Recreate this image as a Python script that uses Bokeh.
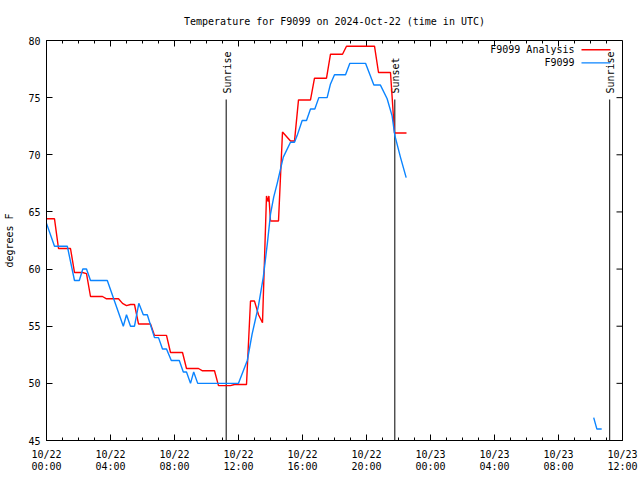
import math
from bokeh.plotting import figure
from bokeh.models import FixedTicker, Range1d, Title, ColumnDataSource
from bokeh.core.properties import value
from bokeh.embed import file_html
from bokeh.resources import INLINE

TITLE = "Temperature for F9099 on 2024-Oct-22 (time in UTC)"
Y_LABEL = "degrees F"
series_names = ["F9099 Analysis", "F9099"]
series_colors = ["#ff0000", "#0a84ff"]

# hours since 2024-10-22 00:00 UTC
analysis_hours = [0.0, 0.5, 0.75, 1.5, 1.75, 2.25, 2.5, 2.75, 3.5, 3.75,
                  4.5, 4.75, 5.0, 5.25, 5.5, 5.75, 6.5, 6.75, 7.5, 7.75,
                  8.5, 8.75, 9.5, 9.75, 10.5, 10.75, 11.5, 11.75, 12.5, 12.75,
                  13.0, 13.25, 13.5, 13.75, 13.85, 13.9, 14.0, 14.5, 14.75, 15.25,
                  15.5, 15.75, 16.5, 16.75, 17.5, 17.75, 18.5, 18.75, 20.5, 20.75,
                  21.5, 21.75, 22.5]
analysis_temps = [64.4, 64.4, 61.8, 61.8, 59.7, 59.7, 59.6, 57.6, 57.6, 57.4,
                  57.4, 57.0, 56.8, 56.9, 56.9, 55.2, 55.2, 54.2, 54.2, 52.7,
                  52.7, 51.3, 51.3, 51.1, 51.1, 49.8, 49.8, 49.9, 49.9, 57.2,
                  57.2, 56.0, 55.3, 66.4, 65.9, 66.4, 64.2, 64.2, 72.0, 71.2,
                  71.2, 74.8, 74.8, 76.7, 76.7, 78.8, 78.8, 79.5, 79.5, 77.2,
                  77.2, 71.9, 71.9]

obs_hours = [0.0, 0.5, 1.3, 1.75, 2.05, 2.27, 2.5, 2.75, 3.8, 4.8,
             5.0, 5.25, 5.5, 5.77, 6.05, 6.3, 6.75, 7.0, 7.25, 7.5,
             7.8, 8.3, 8.55, 8.75, 9.0, 9.2, 9.45, 12.0, 12.55, 12.85,
             13.25, 13.55, 13.8, 14.0, 14.2, 14.42, 14.6, 14.8, 15.25, 15.5,
             15.67, 15.98, 16.25, 16.5, 16.77, 17.02, 17.54, 17.75, 18.0, 18.69,
             18.96, 19.94, 20.46, 20.87, 21.29, 21.6, 21.77, 22.12, 22.48, float("nan"),
             34.2, 34.4, 34.7]
obs_temps = [64, 62, 62, 59, 59, 60, 60, 59, 59, 55,
             56, 55, 55, 57, 56, 56, 54, 54, 53, 53,
             52, 52, 51, 51, 50, 51, 50, 50, 52, 54.3,
             56.8, 59.3, 62.2, 64.8, 66.3, 67.5, 68.6, 69.8, 71.1, 71.1,
             71.7, 73.0, 73.0, 74.0, 74.0, 75.0, 75.0, 76.2, 77.0, 77.0,
             78.0, 78.0, 76.1, 76.1, 74.9, 73.4, 71.7, 69.8, 68.0, float("nan"),
             47, 46, 46]

sun_event_hours = [11.23, 21.77, 35.2]
sun_event_labels = ["Sunrise", "Sunset", "Sunrise"]

x_tick_hours = [0, 4, 8, 12, 16, 20, 24, 28, 32, 36]
x_tick_labels = ["10/22\n00:00", "10/22\n04:00", "10/22\n08:00", "10/22\n12:00",
                 "10/22\n16:00", "10/22\n20:00", "10/23\n00:00", "10/23\n04:00",
                 "10/23\n08:00", "10/23\n12:00"]
x_minor_hours = list(range(0, 37))
y_ticks = [45, 50, 55, 60, 65, 70, 75, 80]

FONT = "DejaVu Sans Mono"
FS = "10px"
X0, X1 = 0, 36
Y0, Y1 = 45, 80
W, H = 640, 480
BL, BR, BT, BB = 46, 18, 40, 40
FW, FH = W - BL - BR, H - BT - BB          # frame size in px
HX = (X1 - X0) / FW                         # hours per px
DY = (Y1 - Y0) / FH                         # degrees per px
MAJ, MIN = 6, 3                             # tick lengths in px

p = figure(width=W, height=H, x_range=Range1d(X0, X1), y_range=Range1d(Y0, Y1),
           output_backend="svg", toolbar_location=None,
           min_border_left=BL, min_border_right=BR, min_border_top=BT, min_border_bottom=BB)
p.title = None
p.xgrid.visible = False
p.ygrid.visible = False
p.outline_line_color = "black"
p.outline_line_width = 1
p.background_fill_color = "white"
p.border_fill_color = "white"


def style_axis(ax):
    ax.axis_line_color = "black"
    ax.axis_line_width = 1
    ax.major_tick_line_color = "black"
    ax.minor_tick_line_color = "black"
    ax.major_tick_in = MAJ
    ax.major_tick_out = 0
    ax.minor_tick_in = MIN
    ax.minor_tick_out = 0
    ax.major_label_text_font = FONT
    ax.major_label_text_font_size = FS
    ax.major_label_text_color = "black"


xa = p.xaxis[0]
xa.ticker = FixedTicker(ticks=x_tick_hours, minor_ticks=x_minor_hours)
style_axis(xa)
xa.major_label_overrides = {h: lab for h, lab in zip(x_tick_hours, x_tick_labels)}
xa.major_label_standoff = 8
xa.major_label_text_line_height = 1.15

ya = p.yaxis[0]
ya.ticker = FixedTicker(ticks=y_ticks, minor_ticks=[])
style_axis(ya)
ya.major_label_standoff = 6
ya.axis_label = Y_LABEL
ya.axis_label_text_font = FONT
ya.axis_label_text_font_size = FS
ya.axis_label_text_font_style = "normal"
ya.axis_label_text_color = "black"
ya.axis_label_standoff = 10

p.add_layout(Title(text=TITLE, align="center", text_font=FONT, text_font_size=FS,
                   text_font_style="normal", text_color="black", standoff=27), "above")

# mirrored ticks on the top and right borders (gnuplot style)
top_src = ColumnDataSource(dict(
    x=x_minor_hours,
    y0=[Y1] * len(x_minor_hours),
    y1=[Y1 - (MAJ if h in x_tick_hours else MIN) * DY for h in x_minor_hours]))
p.segment(x0="x", y0="y0", x1="x", y1="y1", source=top_src, line_color="black", line_width=1)
right_src = ColumnDataSource(dict(
    y=y_ticks, x0=[X1] * len(y_ticks), x1=[X1 - MAJ * HX] * len(y_ticks)))
p.segment(x0="x0", y0="y", x1="x1", y1="y", source=right_src, line_color="black", line_width=1)

# sunrise / sunset markers
line_top = Y0 + 0.8525 * (Y1 - Y0)
label_y = Y0 + 0.8675 * (Y1 - Y0)
sun_src = ColumnDataSource(dict(x=sun_event_hours, label=sun_event_labels,
                                y0=[Y0] * len(sun_event_hours),
                                y1=[line_top] * len(sun_event_hours),
                                ly=[label_y] * len(sun_event_hours)))
p.segment(x0="x", y0="y0", x1="x", y1="y1", source=sun_src, line_color="black", line_width=1)
p.text(x="x", y="ly", text="label", source=sun_src, angle=math.pi / 2,
       text_align="left", text_baseline="middle", x_offset=1,
       text_font=value(FONT), text_font_size=FS, text_color="black")

# data series
p.line(analysis_hours, analysis_temps, line_color=series_colors[0], line_width=1.4)
p.line(obs_hours, obs_temps, line_color=series_colors[1], line_width=1.4)

# gnuplot-style key (text left of the sample line)
key_text_x = X0 + 0.9167 * (X1 - X0)
key_l0 = X0 + 0.9288 * (X1 - X0)
key_l1 = X0 + 0.979 * (X1 - X0)
key_rows = [Y0 + 0.977 * (Y1 - Y0), Y0 + 0.944 * (Y1 - Y0)]
key_src = ColumnDataSource(dict(tx=[key_text_x] * 2, y=key_rows, name=series_names,
                                x0=[key_l0] * 2, x1=[key_l1] * 2, color=series_colors))
p.text(x="tx", y="y", text="name", source=key_src, text_align="right",
       text_baseline="middle", text_font=value(FONT), text_font_size=FS, text_color="black")
p.segment(x0="x0", y0="y", x1="x1", y1="y", source=key_src, line_color="color", line_width=1.4)

open("out.html", "w").write(file_html(p, INLINE))
